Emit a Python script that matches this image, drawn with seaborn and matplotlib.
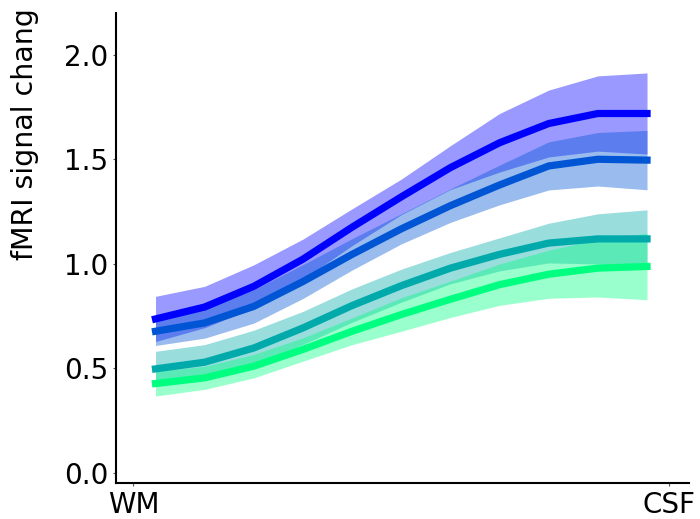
import numpy as np
import pandas as pd
import seaborn as sns
from matplotlib import pyplot as plt

# cortical depth samples, white matter -> CSF
depth = [0, 1, 2, 3, 4, 5, 6, 7, 8, 9, 10]

# mean signal change per condition
mean_a = [0.736, 0.793, 0.892, 1.022, 1.175, 1.320, 1.460, 1.579, 1.671, 1.719, 1.719]
mean_b = [0.677, 0.717, 0.796, 0.915, 1.045, 1.167, 1.278, 1.377, 1.468, 1.500, 1.496]
mean_c = [0.497, 0.529, 0.597, 0.693, 0.800, 0.895, 0.979, 1.045, 1.099, 1.119, 1.119]
mean_d = [0.427, 0.454, 0.510, 0.590, 0.677, 0.757, 0.830, 0.900, 0.950, 0.979, 0.987]

# half-width of the shaded band
err_a = [0.108, 0.099, 0.103, 0.096, 0.088, 0.085, 0.105, 0.140, 0.160, 0.180, 0.194]
err_b = [0.068, 0.073, 0.080, 0.081, 0.075, 0.072, 0.080, 0.095, 0.115, 0.128, 0.142]
err_c = [0.084, 0.084, 0.085, 0.079, 0.080, 0.079, 0.075, 0.079, 0.095, 0.120, 0.139]
err_d = [0.060, 0.055, 0.056, 0.056, 0.064, 0.080, 0.087, 0.099, 0.115, 0.138, 0.159]

x_ticks = [-0.45, 10.45]
x_ticklabels = ["WM", "CSF"]
y_ticks = [0.0, 0.5, 1.0, 1.5, 2.0]
y_label = "fMRI signal chang"  # as it shows in the reference (cut at the top)


def main():
    sns.set_style("ticks")
    plt.rcParams["font.family"] = ["DejaVu Sans"]

    fig = plt.figure(figsize=(7, 5.19), dpi=100)
    ax = fig.add_axes([0.166, 0.069, 0.818, 0.906])

    series = [(mean_a, err_a), (mean_b, err_b), (mean_c, err_c), (mean_d, err_d)]
    colors = [plt.cm.winter(v) for v in np.linspace(0, 1, len(series))]

    # bands first so every line sits on top
    for (m, e), col in zip(series, colors):
        lo = np.array(m) - np.array(e)
        hi = np.array(m) + np.array(e)
        ax.fill_between(depth, lo, hi, color=col, alpha=0.4, linewidth=0)

    for (m, e), col in zip(series, colors):
        df = pd.DataFrame({"depth": depth, "signal": m})
        sns.lineplot(data=df, x="depth", y="signal", color=col, linewidth=5.2,
                     solid_capstyle="projecting", solid_joinstyle="miter", ax=ax)

    ax.set_xlim(-0.8, 10.85)
    ax.set_ylim(-0.05, 2.2)
    ax.set_xticks(x_ticks)
    ax.set_xticklabels(x_ticklabels, fontsize=20, color="black")
    ax.set_yticks(y_ticks)
    ax.set_yticklabels([f"{t:.1f}" for t in y_ticks], fontsize=20, color="black")
    ax.tick_params(length=2.5, width=0.8, color="#555555", pad=3)
    ax.set_xlabel("")
    ax.set_ylabel(y_label, fontsize=20.5, ha="left", color="black")
    ax.yaxis.set_label_coords(-0.135, 0.475)
    for s in ["left", "bottom"]:
        ax.spines[s].set_linewidth(1.5)
        ax.spines[s].set_color("black")
    sns.despine(ax=ax)

    fig.savefig("out.png", dpi=100)
    plt.close()


if __name__ == "__main__":

    main()
